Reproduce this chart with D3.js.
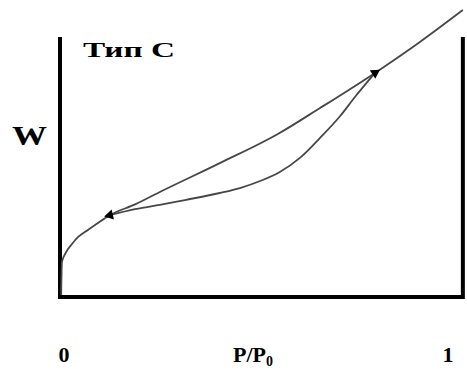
<!DOCTYPE html>
<html lang=ru>
<meta charset=utf-8>
<title>Тип С</title>
<style>
    body { margin: 0; background: #fff; }
    text { font-family: "Liberation Serif", "Times New Roman", serif; font-weight: bold; fill: #000; }
</style>
<svg id=chart width=467 height=374></svg>
<script src=https://d3js.org/d3.v7.min.js></script>
<script>
// adsorption branch (goes up and out past the frame)
var adsP = [0.003, 0.005, 0.016, 0.031, 0.047, 0.072, 0.098, 0.129, 0.194, 0.258, 0.413, 0.563, 0.672, 0.814, 0.930, 1.041];
var adsW = [0.008, 0.135, 0.173, 0.204, 0.231, 0.258, 0.285, 0.315, 0.356, 0.404, 0.515, 0.627, 0.727, 0.862, 0.981, 1.104];
// desorption branch, knee -> upper arrow (drawn in increasing P)
var desP = [0.129, 0.194, 0.271, 0.323, 0.413, 0.465, 0.517, 0.568, 0.620, 0.672, 0.724, 0.762, 0.814];
var desW = [0.315, 0.338, 0.358, 0.373, 0.400, 0.419, 0.446, 0.481, 0.535, 0.612, 0.696, 0.769, 0.862];
var tickVals = [0, 1];
var tickLabels = ["0", "1"];
var xMax = 1.041;

var svg = d3.select("#chart");
var x = d3.scaleLinear().domain([0, 1]).range([60, 447]);
var y = d3.scaleLinear().domain([0, 1]).range([297, 37]);

// рамка: слева, снизу, справа
svg.append("path")
    .attr("d", "M" + x(0) + "," + y(1) + "V" + y(0) + "H" + x(xMax) + "V" + y(1))
    .attr("fill", "none")
    .attr("stroke", "#000")
    .attr("stroke-width", 4);

var line = d3.line()
    .x(function (d) { return x(d[0]); })
    .y(function (d) { return y(d[1]); })
    .curve(d3.curveMonotoneX);

var ads = adsP.map(function (p, i) { return [p, adsW[i]]; });
var des = desP.map(function (p, i) { return [p, desW[i]]; });

[ads, des].forEach(function (pts) {
    svg.append("path")
        .attr("d", line(pts))
        .attr("fill", "none")
        .attr("stroke", "#474747")
        .attr("stroke-width", 1.8);
});

// стрелки
function arrow(from, to) {
    var x0 = x(from[0]), y0 = y(from[1]), x1 = x(to[0]), y1 = y(to[1]);
    var a = Math.atan2(y1 - y0, x1 - x0) * 180 / Math.PI + 90;
    svg.append("path")
        .attr("d", d3.symbol().type(d3.symbolTriangle).size(45)())
        .attr("transform", "translate(" + x1 + "," + y1 + ") rotate(" + a + ")")
        .attr("fill", "#000");
}
arrow(ads[12], ads[13]);
arrow(des[1], des[0]);

// подписи
svg.append("text").attr("x", 83).attr("y", 57)
    .attr("font-size", 22).attr("textLength", 92).attr("lengthAdjust", "spacingAndGlyphs")
    .text("Тип С");

svg.append("text").attr("x", 12).attr("y", 145)
    .attr("font-size", 28).attr("textLength", 35).attr("lengthAdjust", "spacingAndGlyphs")
    .text("W");

svg.selectAll(".tick").data(tickVals).enter().append("text")
    .attr("class", "tick")
    .attr("x", function (d) { return x(d) + (d ? 1 : 4); })
    .attr("y", 362)
    .attr("font-size", 22)
    .attr("text-anchor", "middle")
    .text(function (d, i) { return tickLabels[i]; });

var lab = svg.append("text").attr("x", 233).attr("y", 362).attr("font-size", 22);
lab.append("tspan").text("P/P");
lab.append("tspan").attr("font-size", 14).attr("dy", 4).text("0");
</script>
